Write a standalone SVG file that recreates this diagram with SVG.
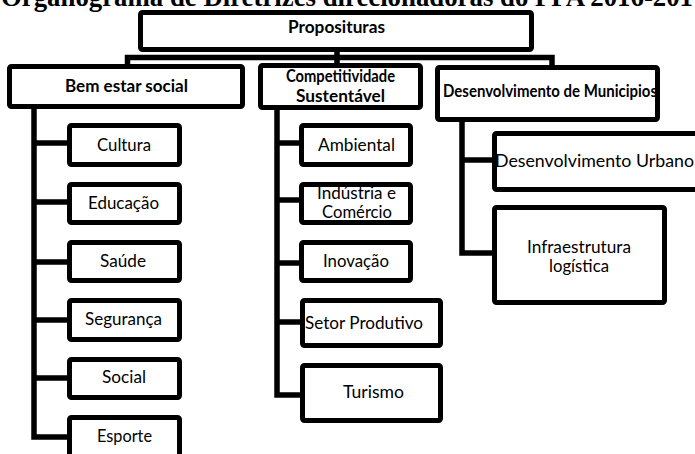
<svg xmlns="http://www.w3.org/2000/svg" width="695" height="454" viewBox="0 0 695 454">
<style>
.box{fill:#fff;stroke:#000;stroke-width:5;}
.con{fill:none;stroke:#000;stroke-width:5.5;stroke-linejoin:miter;stroke-linecap:butt;}
.t{font-family:Lato,"Open Sans","Liberation Sans",sans-serif;font-size:16.5px;fill:#000;text-anchor:middle;}
.b{font-weight:bold;}
.title{font-family:"Liberation Serif","Times New Roman",serif;font-weight:bold;font-size:26.5px;fill:#000;}
</style>
<rect width="695" height="454" fill="#fff"/>
<text class="title" x="1" y="6" textLength="692" lengthAdjust="spacingAndGlyphs">Organograma de Diretrizes direcionadoras do PPA 2016-201</text>
<g id="connectors">
<path class="con" d="M337,50 V65"/>
<path class="con" d="M127.5,66 V57.5 H552 V67"/>
<path class="con" d="M34,107 V437 H69"/>
<path class="con" d="M34,143 H69 M34,202 H69 M34,262 H69 M34,320 H69 M34,378 H69"/>
<path class="con" d="M277,108 V395 H302"/>
<path class="con" d="M277,143 H301 M277,200 H301 M277,263 H301 M277,322 H302"/>
<path class="con" d="M462,120 V253 H494"/>
<path class="con" d="M462,160 H494"/>
</g>
<g id="proposituras">
<rect class="box" x="140.5" y="12.5" width="391" height="37" rx="2"/>
<text class="t b" x="336.5" y="33" font-size="15.5" textLength="97" lengthAdjust="spacingAndGlyphs">Proposituras</text>
</g>
<g id="bem-estar-social">
<rect class="box" x="9.5" y="66.5" width="233" height="40" rx="2"/>
<text class="t b" x="126.5" y="92" font-size="16.5" textLength="123" lengthAdjust="spacingAndGlyphs">Bem estar social</text>
</g>
<g id="competitividade">
<rect class="box" x="260.5" y="65.5" width="160" height="42" rx="2"/>
<text class="t b" x="340.5" y="82" font-size="14" textLength="109" lengthAdjust="spacingAndGlyphs">Competitividade</text>
<text class="t b" x="340.5" y="102" font-size="17.5" textLength="89" lengthAdjust="spacingAndGlyphs">Sustentável</text>
</g>
<g id="desenvolvimento-municipios">
<rect class="box" x="437.5" y="67.5" width="220" height="52" rx="2"/>
<text class="t b" x="550" y="97" font-size="13.5" textLength="214" lengthAdjust="spacingAndGlyphs">Desenvolvimento de Municipios</text>
</g>
<g id="cultura">
<rect class="box" x="69.5" y="125.5" width="110" height="39" rx="2"/>
<text class="t" x="124" y="151" textLength="54" lengthAdjust="spacingAndGlyphs">Cultura</text>
</g>
<g id="educacao">
<rect class="box" x="69.5" y="184.5" width="110" height="38" rx="2"/>
<text class="t" x="123.5" y="209" textLength="71" lengthAdjust="spacingAndGlyphs">Educação</text>
</g>
<g id="saude">
<rect class="box" x="69.5" y="242.5" width="110" height="38" rx="2"/>
<text class="t" x="123" y="267" textLength="46" lengthAdjust="spacingAndGlyphs">Saúde</text>
</g>
<g id="seguranca">
<rect class="box" x="69.5" y="300.5" width="110" height="39" rx="2"/>
<text class="t" x="123.5" y="325" textLength="77" lengthAdjust="spacingAndGlyphs">Segurança</text>
</g>
<g id="social">
<rect class="box" x="69.5" y="359.5" width="110" height="38" rx="2"/>
<text class="t" x="124" y="383" textLength="44" lengthAdjust="spacingAndGlyphs">Social</text>
</g>
<g id="esporte">
<rect class="box" x="69.5" y="417.5" width="110" height="45" rx="2"/>
<text class="t" x="124.5" y="442" textLength="55" lengthAdjust="spacingAndGlyphs">Esporte</text>
</g>
<g id="ambiental">
<rect class="box" x="301.5" y="125.5" width="109" height="39" rx="2"/>
<text class="t" x="356.5" y="151" textLength="77" lengthAdjust="spacingAndGlyphs">Ambiental</text>
</g>
<g id="industria-comercio">
<rect class="box" x="301.5" y="184.5" width="109" height="38" rx="2"/>
<text class="t" x="356.5" y="199" textLength="79" lengthAdjust="spacingAndGlyphs">Indústria e</text>
<text class="t" x="357" y="218" textLength="70" lengthAdjust="spacingAndGlyphs">Comércio</text>
</g>
<g id="inovacao">
<rect class="box" x="301.5" y="242.5" width="109" height="38" rx="2"/>
<text class="t" x="356" y="267" textLength="66" lengthAdjust="spacingAndGlyphs">Inovação</text>
</g>
<g id="setor-produtivo">
<rect class="box" x="302.5" y="300.5" width="138" height="45" rx="2"/>
<text class="t" x="364" y="329" textLength="118" lengthAdjust="spacingAndGlyphs">Setor Produtivo</text>
</g>
<g id="turismo">
<rect class="box" x="302.5" y="365.5" width="138" height="55" rx="2"/>
<text class="t" x="373.5" y="398" textLength="61" lengthAdjust="spacingAndGlyphs">Turismo</text>
</g>
<g id="desenvolvimento-urbano">
<rect class="box" x="494.5" y="133.5" width="215" height="56" rx="2"/>
<text class="t" x="594.5" y="167" textLength="199" lengthAdjust="spacingAndGlyphs">Desenvolvimento Urbano</text>
</g>
<g id="infraestrutura-logistica">
<rect class="box" x="494.5" y="207.5" width="170" height="95" rx="2"/>
<text class="t" x="579" y="253" textLength="104" lengthAdjust="spacingAndGlyphs">Infraestrutura</text>
<text class="t" x="579" y="272" textLength="60" lengthAdjust="spacingAndGlyphs">logística</text>
</g>
</svg>
